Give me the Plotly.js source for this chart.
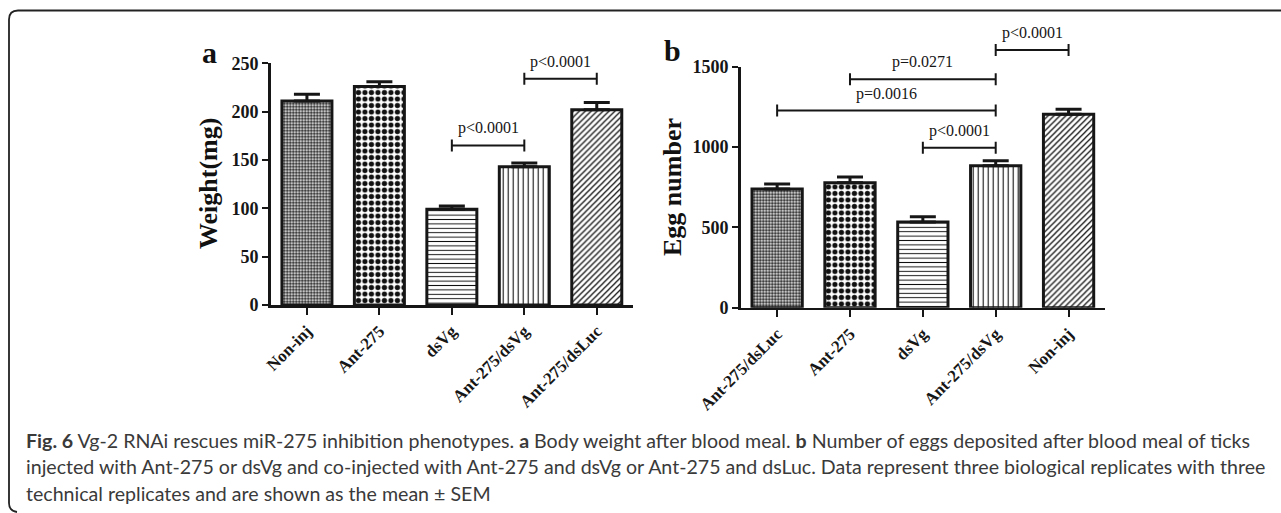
<!DOCTYPE html>
<html>
<head>
<meta charset="utf-8">
<script src="https://cdn.plot.ly/plotly-3.0.1.min.js"></script>
<style>html,body{margin:0;padding:0;background:#fff;}#chart{width:1281px;height:513px;}</style>
</head>
<body>
<div id="chart"></div>
<script>
// ---------- data ----------
const categoriesA = ['Non-inj', 'Ant-275', 'dsVg', 'Ant-275/dsVg', 'Ant-275/dsLuc'];
const weightMean = [211, 226, 99, 143, 202];
const weightSem = [7, 5, 3.5, 4, 7.5];
const yTicksA = [0, 50, 100, 150, 200, 250];

const categoriesB = ['Ant-275/dsLuc', 'Ant-275', 'dsVg', 'Ant-275/dsVg', 'Non-inj'];
const eggMean = [739, 778, 534, 884, 1204];
const eggSem = [31, 36, 33, 31, 31];
const yTicksB = [0, 500, 1000, 1500];

const bracketAFrom = ['dsVg', 'Ant-275/dsVg'];
const bracketATo = ['Ant-275/dsVg', 'Ant-275/dsLuc'];
const bracketAY = [165, 234];
const bracketALabel = ['p&lt;0.0001', 'p&lt;0.0001'];

const bracketBFrom = ['Ant-275/dsVg', 'Ant-275', 'Ant-275/dsLuc', 'dsVg'];
const bracketBTo = ['Non-inj', 'Ant-275/dsVg', 'Ant-275/dsVg', 'Ant-275/dsVg'];
const bracketBY = [1604, 1422, 1227, 996];
const bracketBLabel = ['p&lt;0.0001', 'p=0.0271', 'p=0.0016', 'p&lt;0.0001'];

const captionLines = [
  '<b>Fig. 6</b> Vg-2 RNAi rescues miR-275 inhibition phenotypes. <b>a</b> Body weight after blood meal. <b>b</b> Number of eggs deposited after blood meal of ticks',
  'injected with Ant-275 or dsVg and co-injected with Ant-275 and dsVg or Ant-275 and dsLuc. Data represent three biological replicates with three',
  'technical replicates and are shown as the mean ± SEM'
];

// ---------- layout geometry (pixels) ----------
const W = 1281, H = 513;
const px = v => v / W;
const py = v => 1 - v / H;

const A = {x0: 270.7, x1: 633, yb: 305, yt: 63.3, ext: 18, max: 250};
const B = {x0: 740.7, x1: 1105, yb: 307.8, yt: 66.7, ext: 18, max: 1500};
function extRange(P) { return P.max * (P.yb - P.ext) / (P.yb - P.yt); }

// patterns per bar position (style)
const pattern = {
  shape: ['.', '.', '-', '|', '/'],
  size: [3, 6.5, 4.4, 5, 4.2],
  solidity: [0.5, 0.5, 0.22, 0.22, 0.3],
  fgcolor: '#111', bgcolor: '#fff', fillmode: 'replace'
};

const serif = 'Liberation Serif, Times New Roman, serif';
const ink = '#161616';

function barTrace(cats, vals, errs, xa, ya) {
  return {
    type: 'bar', x: cats, y: vals, xaxis: xa, yaxis: ya, width: 0.69,
    marker: {color: '#fff', line: {color: ink, width: 3}, pattern: pattern},
    error_y: {type: 'data', symmetric: false, array: errs, arrayminus: errs.map(() => 0),
              color: ink, thickness: 3, width: 13},
    hoverinfo: 'skip'
  };
}

function bracketTrace(cats, from, to, ys, cap, xa, ya) {
  const xs = [], yy = [];
  for (let i = 0; i < from.length; i++) {
    const a = from[i], b = to[i], y = ys[i];
    xs.push(a, a, null, a, b, null, b, b, null);
    yy.push(y - cap, y + cap, null, y, y, null, y - cap, y + cap, null);
  }
  return {type: 'scatter', mode: 'lines', x: xs, y: yy, xaxis: xa, yaxis: ya,
          line: {color: ink, width: 2}, hoverinfo: 'skip', connectgaps: false};
}

function bracketLabels(cats, from, to, ys, labels, xa, ya) {
  return labels.map((t, i) => ({
    xref: xa, yref: ya, x: (cats.indexOf(from[i]) + cats.indexOf(to[i])) / 2, y: ys[i],
    text: t, showarrow: false, xanchor: 'center', yanchor: 'middle', yshift: 17,
    font: {family: serif, size: 16, color: ink}
  }));
}

const capA = 6 * A.max / (A.yb - A.yt);
const capB = 6 * B.max / (B.yb - B.yt);

const data = [
  barTrace(categoriesA, weightMean, weightSem, 'x', 'y'),
  barTrace(categoriesB, eggMean, eggSem, 'x2', 'y2'),
  bracketTrace(categoriesA, bracketAFrom, bracketATo, bracketAY, capA, 'x3', 'y3'),
  bracketTrace(categoriesB, bracketBFrom, bracketBTo, bracketBY, capB, 'x4', 'y4')
];

const tickFont = {family: serif, size: 18, color: ink, weight: 'bold'};
const xTickFont = {family: serif, size: 17, color: ink, weight: 'bold'};

function xAxis(P, cats, anchor, visible) {
  return {domain: [px(P.x0), px(P.x1)], anchor: anchor, type: 'category',
    categoryorder: 'array', categoryarray: cats, range: [-0.5, 4.5],
    showline: visible, linecolor: ink, linewidth: 2.5, ticks: visible ? 'outside' : '',
    ticklen: 7, tickwidth: 2, tickcolor: ink, tickangle: -45, tickfont: xTickFont,
    showgrid: false, zeroline: false, visible: visible, fixedrange: true};
}
function yAxis(P, ticks, anchor) {
  return {domain: [py(P.yb), py(P.yt)], anchor: anchor, range: [0, P.max],
    tickmode: 'array', tickvals: ticks, ticktext: ticks.map(String),
    showline: true, linecolor: ink, linewidth: 2.5, ticks: 'outside', ticklen: 6,
    tickwidth: 2, tickcolor: ink, tickfont: tickFont, showgrid: false, zeroline: false,
    fixedrange: true};
}
function yExt(P, anchor) {
  return {domain: [py(P.yb), py(P.ext)], anchor: anchor, range: [0, extRange(P)],
    visible: false, fixedrange: true};
}

function paperText(x, y, text, size, angle) {
  return {xref: 'paper', yref: 'paper', x: px(x), y: py(y), xanchor: 'center', yanchor: 'middle',
    text: text, textangle: angle || 0, showarrow: false,
    font: {family: serif, size: size, color: '#111'}};
}

const annotations = [
  paperText(210, 52, '<b>a</b>', 30),
  paperText(672, 50, '<b>b</b>', 30),
  paperText(208, 184, '<b>Weight(mg)</b>', 26, -90),
  paperText(673, 187, '<b>Egg number</b>', 26, -90)
]
.concat(bracketLabels(categoriesA, bracketAFrom, bracketATo, bracketAY, bracketALabel, 'x3', 'y3'))
.concat(bracketLabels(categoriesB, bracketBFrom, bracketBTo, bracketBY, bracketBLabel, 'x4', 'y4'))
.concat(captionLines.map((t, i) => ({
  xref: 'paper', yref: 'paper', x: px(24), y: py(440 + i * 26.5), xanchor: 'left', yanchor: 'middle',
  text: t, showarrow: false, align: 'left', font: {family: 'Lato, Open Sans, sans-serif', size: 19.6, color: '#3a3a3a'}
})));

const border = 'M ' + px(1281) + ' ' + py(10.5) + ' L ' + px(18) + ' ' + py(10.5) +
  ' Q ' + px(9) + ' ' + py(10.5) + ' ' + px(9) + ' ' + py(19.5) +
  ' L ' + px(9) + ' ' + py(503) + ' Q ' + px(9) + ' ' + py(511) + ' ' + px(17) + ' ' + py(512);

const layout = {
  width: W, height: H, margin: {l: 0, r: 0, t: 0, b: 0, pad: 0},
  paper_bgcolor: '#fff', plot_bgcolor: 'rgba(0,0,0,0)', showlegend: false,
  bargap: 0.3,
  xaxis: xAxis(A, categoriesA, 'y', true),
  yaxis: yAxis(A, yTicksA, 'x'),
  xaxis2: xAxis(B, categoriesB, 'y2', true),
  yaxis2: yAxis(B, yTicksB, 'x2'),
  xaxis3: xAxis(A, categoriesA, 'y3', false),
  yaxis3: yExt(A, 'x3'),
  xaxis4: xAxis(B, categoriesB, 'y4', false),
  yaxis4: yExt(B, 'x4'),
  annotations: annotations,
  shapes: [{type: 'path', xref: 'paper', yref: 'paper', path: border,
            line: {color: '#222', width: 1.8}}]
};

Plotly.newPlot('chart', data, layout, {displayModeBar: false, staticPlot: true});
</script>
</body>
</html>
